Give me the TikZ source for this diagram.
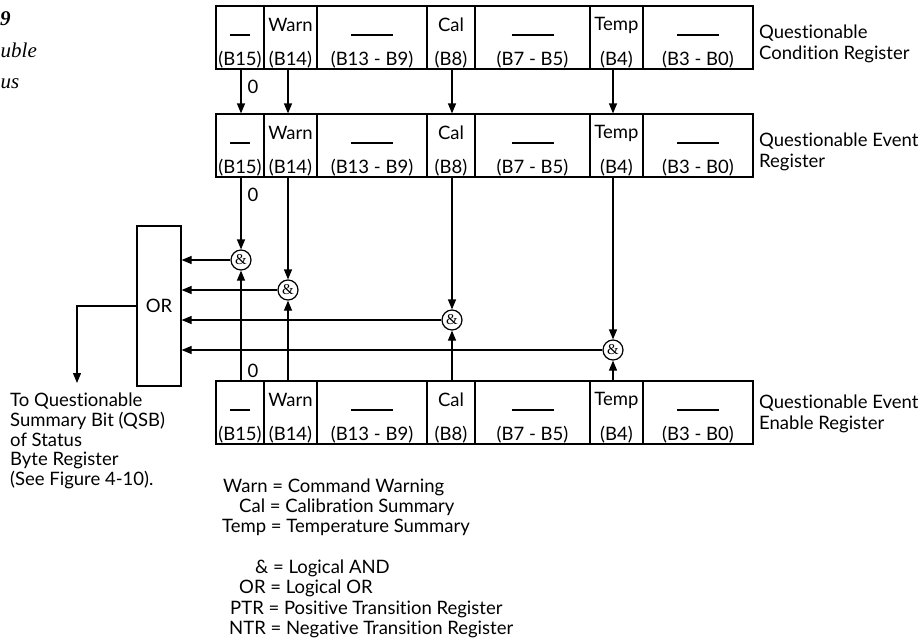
\documentclass[tikz,border=0pt]{standalone}
\usepackage{fontspec}
\setmainfont{Lato}[Ligatures=NoCommon]
\newfontfamily\serifff{Liberation Serif}
\usetikzlibrary{arrows.meta}
\tikzset{
  cell/.style={draw, line width=1.2pt, inner sep=0pt, minimum height=63pt},
  txt/.style={font=\fontsize{18.5}{21.5}\selectfont, inner sep=0pt},
  arr/.style={line width=1.2pt, -{Triangle[length=10pt,width=8pt]}},
  wire/.style={line width=1.2pt},
  gate/.style={circle, draw, line width=1.2pt, minimum size=20pt, inner sep=0pt, font=\serifff\fontsize{15}{15}\selectfont},
  ttl/.style={font=\serifff\fontsize{21}{25}\selectfont\itshape, inner sep=0pt, anchor=base west}
}
\newcommand{\shortdsh}{\rule{20pt}{1.2pt}}
\newcommand{\longdsh}{\rule{42pt}{1.2pt}}
\newcommand{\regrow}[2]{%
  \foreach \n/\cx/\w/\ty/\top/\bit in {15/240/48/29/{\shortdsh}/{(B15)},
      14/290.5/53/19/{Warn}/{(B14)},
      9/372/110/29/{\longdsh}/{(B13 - B9)},
      8/451/48/19/{Cal}/{(B8)},
      5/532.5/115/29/{\longdsh}/{(B7 - B5)},
      4/616.5/53/19/{Temp}/{(B4)},
      0/698/110/29/{\longdsh}/{(B3 - B0)}}{%
    \node[cell, minimum width=\w pt] (#1\n) at (\cx, #2+31.5) {};
    \node[txt] (#1\n-a) at (\cx, #2+\ty) {\top};
    \node[txt] (#1\n-b) at (\cx, #2+54) {\bit};
  }%
}
\begin{document}
\begin{tikzpicture}[x=1pt, y=-1pt]
\useasboundingbox (0,0) rectangle (923,640);

% cropped title fragments
\node[ttl, font=\serifff\fontsize{21}{25}\selectfont\bfseries\itshape] (tt1) at (0,25) {9};
\node[ttl] (tt2) at (0.5,57) {uble};
\node[ttl] (tt3) at (0.5,88) {us};

% registers
\regrow{t}{6}
\regrow{m}{114}
\regrow{b}{381}

% register labels
\node[txt, anchor=west, align=left] (lt) at (759,44) {Questionable\\Condition Register};
\node[txt, anchor=west, align=left] (lm) at (759,152) {Questionable Event\\Register};
\node[txt, anchor=west, align=left] (lb) at (759,414) {Questionable Event\\Enable Register};

% AND gates
\node[gate] (g15) at (241,260) {\&};
\node[gate] (g14) at (288,290) {\&};
\node[gate] (g8) at (452,320) {\&};
\node[gate] (g4) at (613,350) {\&};

% OR box
\node[cell, minimum width=44pt, minimum height=160pt, font=\fontsize{18.5}{21.5}\selectfont] (or) at (159,306) {OR};
\coordinate (qsb) at (77,383);

% top -> middle
\draw[arr] (t15.south -| g15) -- (m15.north -| g15);
\draw[arr] (t14.south -| g14) -- (m14.north -| g14);
\draw[arr] (t8.south -| g8) -- (m8.north -| g8);
\draw[arr] (t4.south -| g4) -- (m4.north -| g4);

% middle -> gates
\draw[arr] (m15.south -| g15) -- (g15.north);
\draw[arr] (m14.south -| g14) -- (g14.north);
\draw[arr] (m8.south -| g8) -- (g8.north);
\draw[arr] (m4.south -| g4) -- (g4.north);

% enable -> gates
\draw[arr] (b15.north -| g15) -- (g15.south);
\draw[arr] (b14.north -| g14) -- (g14.south);
\draw[arr] (b8.north -| g8) -- (g8.south);
\draw[arr] (b4.north -| g4) -- (g4.south);

% gates -> OR
\draw[arr] (g15.west) -- (g15.west -| or.east);
\draw[arr] (g14.west) -- (g14.west -| or.east);
\draw[arr] (g8.west) -- (g8.west -| or.east);
\draw[arr] (g4.west) -- (g4.west -| or.east);

% OR output
\draw[arr] (or.west) -| (qsb);

% zero labels
\node[txt] (z1) at (253,87) {0};
\node[txt] (z2) at (253,195) {0};
\node[txt] (z3) at (253,371) {0};

% QSB text
\node[txt, anchor=north west, align=left, font=\fontsize{18.5}{19.7}\selectfont] (qsbt) at (10,393) {To Questionable\\Summary Bit (QSB)\\of Status\\Byte Register\\(See Figure 4-10).};

% legend
\node[txt, anchor=west] (k1) at (223,487) {Warn = Command Warning};
\node[txt, anchor=west] (k2) at (239,507) {Cal = Calibration Summary};
\node[txt, anchor=west] (k3) at (222,527.5) {Temp = Temperature Summary};
\node[txt, anchor=west] (k4) at (255,568.5) {\& = Logical AND};
\node[txt, anchor=west] (k5) at (239,588.5) {OR = Logical OR};
\node[txt, anchor=west] (k6) at (230,609) {PTR = Positive Transition Register};
\node[txt, anchor=west] (k7) at (229,629.5) {NTR = Negative Transition Register};
\end{tikzpicture}
\end{document}
